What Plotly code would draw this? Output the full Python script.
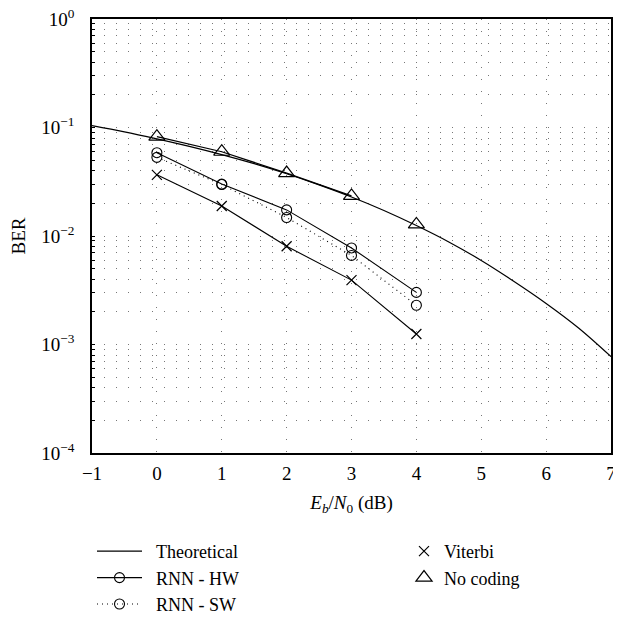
import plotly.graph_objects as go

# ---- data ----
theo_x = [-1, -0.5, 0, 0.5, 1, 1.5, 2, 2.5, 3, 3.5, 4, 4.5, 5, 5.5, 6, 6.5, 7]
theo_y = [0.1040, 0.0912, 0.0786, 0.0671, 0.0563, 0.0464, 0.0375, 0.0296, 0.0229,
          0.0172, 0.0125, 0.00882, 0.00595, 0.00383, 0.00239, 0.00142, 0.000773]

snr = [0, 1, 2, 3, 4]
rnn_hw = [0.0586, 0.0301, 0.0174, 0.00776, 0.00302]
rnn_sw = [0.0531, 0.0298, 0.0148, 0.00662, 0.00230]
viterbi = [0.0366, 0.0189, 0.00804, 0.00392, 0.00125]
no_coding = [0.0823, 0.0598, 0.0380, 0.0234, 0.0128]

x_ticks = [-1, 0, 1, 2, 3, 4, 5, 6, 7]
y_decades = [1e-4, 1e-3, 1e-2, 1e-1, 1e0]
y_decade_labels = ["10<sup>\u22124</sup>", "10<sup>\u22123</sup>", "10<sup>\u22122</sup>",
                   "10<sup>\u22121</sup>", "10<sup>0</sup>"]

# grid positions on the log axis (1..9 x 10^k)
y_grid_vals, y_grid_text = [], []
for i, d in enumerate(y_decades[:-1]):
    for m in range(1, 10):
        y_grid_vals.append(d * m)
        y_grid_text.append(y_decade_labels[i] if m == 1 else "")
y_grid_vals.append(1e0)
y_grid_text.append(y_decade_labels[-1])

FONT = "Liberation Serif, DejaVu Serif, Times New Roman, serif"
fig = go.Figure()

fig.add_trace(go.Scatter(x=theo_x, y=theo_y, mode="lines", name="\u2002Theoretical",
                         line=dict(color="black", width=1.2, shape="spline"),
                         legend="legend", legendgroup="a", legendrank=1))
fig.add_trace(go.Scatter(x=snr, y=rnn_hw, mode="lines+markers", name="\u2002RNN - HW",
                         line=dict(color="black", width=1.1),
                         marker=dict(symbol="circle-open", size=10, color="black",
                                     line=dict(width=1.1)),
                         legend="legend", legendgroup="b", legendrank=2))
fig.add_trace(go.Scatter(x=snr, y=rnn_sw, mode="lines+markers", name="\u2002RNN - SW",
                         line=dict(color="black", width=1.1, dash="1px,4px"),
                         marker=dict(symbol="circle-open", size=10, color="black",
                                     line=dict(width=1.1)),
                         legend="legend", legendgroup="c", legendrank=3))
fig.add_trace(go.Scatter(x=snr[:4], y=no_coding[:4], mode="lines", showlegend=False,
                         line=dict(color="black", width=1.2)))
fig.add_trace(go.Scatter(x=snr, y=viterbi, mode="lines+markers", name="Viterbi",
                         line=dict(color="black", width=1.1),
                         marker=dict(symbol="x-thin-open", size=10, color="black",
                                     line=dict(width=1.2, color="black")),
                         showlegend=False))
# legend-only entry for Viterbi (marker only, as in the reference legend)
fig.add_trace(go.Scatter(x=[None], y=[None], mode="markers", name="Viterbi",
                         marker=dict(symbol="x-thin-open", size=10, color="black",
                                     line=dict(width=1.2, color="black")),
                         legend="legend2", legendgroup="d", legendrank=1))
fig.add_trace(go.Scatter(x=snr, y=no_coding, mode="markers", name="No coding",
                         marker=dict(symbol="triangle-up-open", size=14, color="black",
                                     line=dict(width=1.2)),
                         legend="legend2", legendgroup="e", legendrank=2))

# the page body adds an 8px offset; figure size and margins compensate so the
# plot box sits at about x 92..611, y 19..453 in the 621x621 window
fig.update_layout(
    width=605, height=613,
    margin=dict(l=84, r=2, t=11, b=168, autoexpand=False),
    paper_bgcolor="white", plot_bgcolor="white",
    font=dict(family=FONT, size=19, color="black"),
    xaxis=dict(range=[-1, 7], tickvals=x_ticks,
               ticktext=["\u22121"] + [str(v) for v in x_ticks[1:]],
               showgrid=True, gridcolor="#777", gridwidth=1, griddash="1px,11px",
               showline=True, linecolor="black", linewidth=1.5, mirror=True,
               zeroline=False, ticks="", ticklabelstandoff=2,
               ticklabeloverflow="allow", tickfont=dict(size=19),
               title=dict(text="<i>E<sub>b</sub></i>/<i>N</i><sub>0</sub> (dB)",
                          font=dict(size=19), standoff=13)),
    yaxis=dict(type="log", range=[-4, 0], tickvals=y_grid_vals, ticktext=y_grid_text,
               showgrid=True, gridcolor="#777", gridwidth=1, griddash="1px,11px",
               showline=True, linecolor="black", linewidth=1.5, mirror=True,
               zeroline=False, ticks="inside", ticklen=3, tickcolor="black",
               ticklabelstandoff=12, ticklabeloverflow="allow", tickfont=dict(size=19),
               title=dict(text="BER", font=dict(size=19), standoff=13)),
    legend=dict(x=0.0, y=(453 - 533) / 434, xanchor="left", yanchor="top",
                bgcolor="rgba(0,0,0,0)", font=dict(size=18), tracegroupgap=0,
                traceorder="grouped", itemwidth=45),
    legend2=dict(x=(404 - 92) / 519, y=(453 - 533) / 434, xanchor="left", yanchor="top",
                 bgcolor="rgba(0,0,0,0)", font=dict(size=18), tracegroupgap=0,
                 traceorder="grouped", itemwidth=30),
    showlegend=True,
)

fig.write_html("out.html")
